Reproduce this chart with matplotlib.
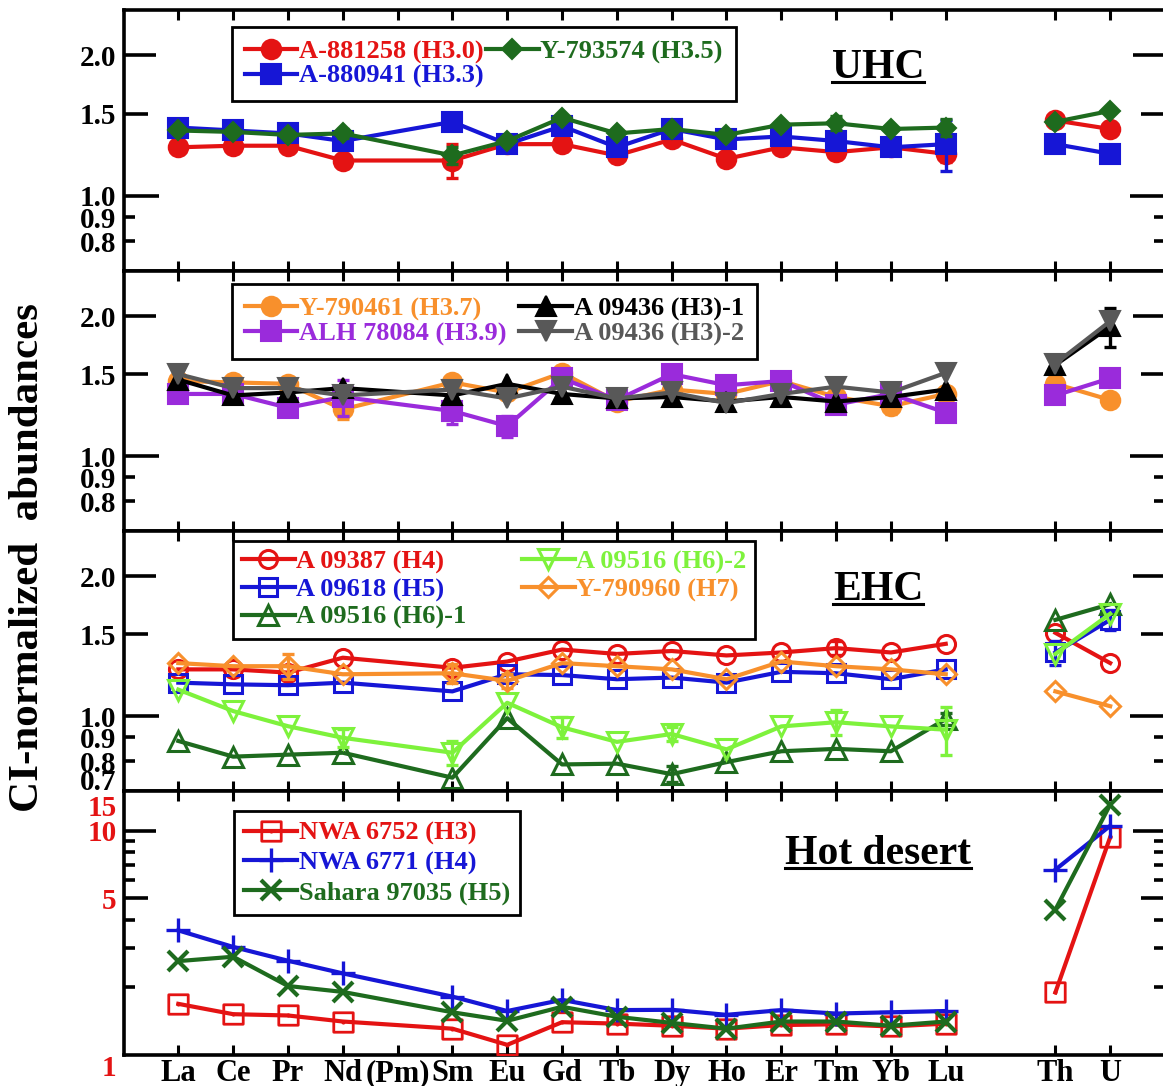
import numpy as np
import matplotlib
matplotlib.use('Agg')
import matplotlib.pyplot as plt
from matplotlib.path import Path
from matplotlib.ticker import FixedLocator, FixedFormatter, NullLocator
from matplotlib.lines import Line2D
from matplotlib.transforms import ScaledTranslation

plt.rcParams['font.family'] = ['Liberation Serif', 'DejaVu Serif']
plt.rcParams['font.weight'] = 'bold'

# ---------------- data ----------------
ree_labels = ['La', 'Ce', 'Pr', 'Nd', '(Pm)', 'Sm', 'Eu', 'Gd', 'Tb', 'Dy',
              'Ho', 'Er', 'Tm', 'Yb', 'Lu']
act_labels = ['Th', 'U']
ree_measured = ['La', 'Ce', 'Pr', 'Nd', 'Sm', 'Eu', 'Gd', 'Tb', 'Dy',
                'Ho', 'Er', 'Tm', 'Yb', 'Lu']

# Panel 1 : UHC
a881258_ree = [1.27, 1.28, 1.28, 1.19, 1.19, 1.29, 1.29, 1.22, 1.32, 1.20, 1.27, 1.24, 1.27, 1.23]
a881258_act = [1.45, 1.39]
a881258_err = [0, 0, 0, 0, 0.10, 0, 0.04, 0.04, 0, 0.03, 0, 0.03, 0, 0.05]
a880941_ree = [1.40, 1.38, 1.36, 1.31, 1.44, 1.29, 1.41, 1.27, 1.39, 1.32, 1.34, 1.31, 1.27, 1.29]
a880941_act = [1.29, 1.23]
a880941_err = [0, 0, 0.03, 0.05, 0.04, 0, 0, 0, 0, 0, 0, 0, 0, 0.16]
y793574_ree = [1.38, 1.37, 1.35, 1.36, 1.22, 1.31, 1.47, 1.36, 1.39, 1.35, 1.42, 1.43, 1.39, 1.40]
y793574_act = [1.44, 1.52]
y793574_err = [0, 0, 0, 0.03, 0.05, 0, 0, 0, 0, 0, 0, 0.05, 0, 0.06]

# Panel 2
y790461_ree = [1.45, 1.44, 1.43, 1.26, 1.44, 1.37, 1.51, 1.31, 1.39, 1.36, 1.45, 1.34, 1.28, 1.36]
y790461_act = [1.43, 1.32]
y790461_err = [0, 0, 0, 0.06, 0.05, 0, 0.05, 0.03, 0, 0, 0, 0, 0.05, 0]
alh78084_ree = [1.36, 1.36, 1.27, 1.34, 1.25, 1.16, 1.47, 1.32, 1.50, 1.42, 1.45, 1.29, 1.36, 1.24]
alh78084_act = [1.35, 1.47]
alh78084_err = [0, 0, 0, 0.12, 0.08, 0.06, 0, 0, 0, 0, 0, 0, 0, 0]
a09436_1_ree = [1.46, 1.35, 1.37, 1.40, 1.35, 1.43, 1.36, 1.33, 1.34, 1.31, 1.34, 1.31, 1.34, 1.39]
a09436_1_act = [1.57, 1.90]
a09436_1_act_err = [0, 0.18]
a09436_2_ree = [1.50, 1.40, 1.40, 1.35, 1.39, 1.33, 1.41, 1.33, 1.37, 1.30, 1.36, 1.41, 1.37, 1.51]
a09436_2_act = [1.58, 1.95]

# Panel 3 : EHC
a09387_ree = [1.26, 1.26, 1.24, 1.335, 1.27, 1.31, 1.39, 1.36, 1.38, 1.35, 1.37, 1.40, 1.37, 1.43]
a09387_act = [1.51, 1.30]
a09387_err = [0, 0, 0, 0, 0, 0, 0, 0, 0, 0, 0, 0.05, 0, 0]
a09618_ree = [1.18, 1.17, 1.165, 1.18, 1.13, 1.23, 1.225, 1.20, 1.21, 1.18, 1.245, 1.236, 1.20, 1.26]
a09618_act = [1.37, 1.61]
a09618_act_err = [0.08, 0.08]
a09516_1_ree = [0.884, 0.818, 0.826, 0.834, 0.737, 0.99, 0.787, 0.79, 0.75, 0.796, 0.84, 0.85, 0.84, 0.985]
a09516_1_act = [1.61, 1.74]
a09516_1_err = [0, 0, 0, 0, 0, 0, 0, 0, 0.03, 0, 0, 0, 0, 0.03]
a09516_2_ree = [1.14, 1.025, 0.951, 0.898, 0.834, 1.068, 0.946, 0.88, 0.915, 0.848, 0.95, 0.97, 0.95, 0.935]
a09516_2_act = [1.36, 1.66]
a09516_2_err = [0, 0, 0, 0.04, 0.05, 0, 0.05, 0, 0.03, 0, 0, 0.06, 0, 0.11]
y790960_ree = [1.30, 1.28, 1.28, 1.23, 1.236, 1.19, 1.30, 1.28, 1.26, 1.20, 1.31, 1.28, 1.26, 1.23]
y790960_act = [1.13, 1.05]
y790960_err = [0, 0, 0.08, 0, 0.06, 0.04, 0, 0, 0, 0, 0, 0, 0, 0]

# Panel 4 : Hot desert
nwa6752_ree = [1.69, 1.52, 1.50, 1.41, 1.31, 1.11, 1.40, 1.38, 1.35, 1.31, 1.36, 1.37, 1.34, 1.38]
nwa6752_act = [1.90, 9.34]
nwa6771_ree = [3.59, 3.03, 2.63, 2.31, 1.82, 1.57, 1.76, 1.585, 1.59, 1.51, 1.585, 1.53, 1.55, 1.57]
nwa6771_act = [6.69, 10.5]
sahara97035_ree = [2.62, 2.74, 2.03, 1.91, 1.55, 1.42, 1.64, 1.48, 1.39, 1.31, 1.41, 1.41, 1.35, 1.41]
sahara97035_act = [4.44, 13.05]

# ---------------- style ----------------
RED = '#E41313'
BLUE = '#1616D6'
DGREEN = '#1E6B1E'
ORANGE = '#F8902C'
PURPLE = '#9A2BDB'
BLACK = '#000000'
GRAY = '#585858'
LGREEN = '#7EF23C'

all_x = ree_labels + [''] + act_labels
ree_x = np.array([all_x.index(e) for e in ree_measured], dtype=float)
act_x = np.array([all_x.index(e) for e in act_labels], dtype=float)

sq = Path([[-.5, -.5], [.5, -.5], [.5, .5], [-.5, .5], [-.5, -.5]],
          [Path.MOVETO, Path.LINETO, Path.LINETO, Path.LINETO, Path.CLOSEPOLY])
dot = Path.circle((0, 0), 0.035)
SQDOT = Path.make_compound_path(sq, dot)

fig = plt.figure(figsize=(11.63, 10.86), dpi=100)
FW, FH = 1163.0, 1086.0
left_px, right_px = 123.5, 1165.0
tops = [10, 271, 531, 791]
bots = [271, 531, 791, 1055]
axes = []
for i, (t, b) in enumerate(zip(tops, bots)):
    ax = fig.add_axes([left_px / FW, 1 - b / FH, (right_px - left_px) / FW, (b - t) / FH],
                      sharex=axes[0] if axes else None)
    axes.append(ax)


def series(ax, ree, act, color, marker, ms, filled=True, label=None, z=3,
           err=None, act_err=None, mew=1.5):
    kw = dict(color=color, lw=3, marker=marker, ms=ms, mew=mew,
              mec=color, mfc=color if filled else 'none', zorder=z)
    ax.plot(ree_x, ree, label=label, **kw)
    ax.plot(act_x, act, **kw)
    for xs, ys, es in ((ree_x, ree, err), (act_x, act, act_err)):
        if es is None:
            continue
        es = np.asarray(es, float)
        m = es > 0
        if m.any():
            ax.errorbar(xs[m], np.asarray(ys)[m], yerr=es[m], fmt='none', ecolor=color,
                        elinewidth=2.4, capsize=4, capthick=2.4, zorder=z - 0.5)


ax1, ax2, ax3, ax4 = axes
# Panel 1
series(ax1, a881258_ree, a881258_act, RED, 'o', 14, label='A-881258 (H3.0)', z=3, err=a881258_err)
series(ax1, a880941_ree, a880941_act, BLUE, 's', 14.5, label='A-880941 (H3.3)', z=4, err=a880941_err)
series(ax1, y793574_ree, y793574_act, DGREEN, 'D', 10.5, label='Y-793574 (H3.5)', z=5, err=y793574_err)
# Panel 2
series(ax2, y790461_ree, y790461_act, ORANGE, 'o', 14, label='Y-790461 (H3.7)', z=3, err=y790461_err)
series(ax2, alh78084_ree, alh78084_act, PURPLE, 's', 14.5, label='ALH 78084 (H3.9)', z=4, err=alh78084_err)
series(ax2, a09436_1_ree, a09436_1_act, BLACK, '^', 14, label='A 09436 (H3)-1', z=5, act_err=a09436_1_act_err)
series(ax2, a09436_2_ree, a09436_2_act, GRAY, 'v', 14, label='A 09436 (H3)-2', z=6)
# Panel 3
series(ax3, a09387_ree, a09387_act, RED, 'o', 13, False, 'A 09387 (H4)', 3, err=a09387_err, mew=2.2)
series(ax3, a09618_ree, a09618_act, BLUE, 's', 13.5, False, 'A 09618 (H5)', 4, act_err=a09618_act_err, mew=2.2)
series(ax3, a09516_1_ree, a09516_1_act, DGREEN, '^', 14, False, 'A 09516 (H6)-1', 5, err=a09516_1_err, mew=2.2)
series(ax3, a09516_2_ree, a09516_2_act, LGREEN, 'v', 14, False, 'A 09516 (H6)-2', 6, err=a09516_2_err, mew=2.2)
series(ax3, y790960_ree, y790960_act, ORANGE, 'D', 10, False, 'Y-790960 (H7)', 7, err=y790960_err, mew=2.2)
# Panel 4
series(ax4, nwa6752_ree, nwa6752_act, RED, SQDOT, 14, False, 'NWA 6752 (H3)', 3, mew=2)
series(ax4, nwa6771_ree, nwa6771_act, BLUE, '+', 17, True, 'NWA 6771 (H4)', 4, mew=2.4)
series(ax4, sahara97035_ree, sahara97035_act, DGREEN, 'x', 15, True, 'Sahara 97035 (H5)', 5, mew=3)

# ---------------- axes ----------------
xt = sorted(list(ree_x) + [all_x.index('(Pm)')] + list(act_x))
for ax in axes:
    ax.set_yscale('log')
    ax.set_xlim(-1, 18)
    for s in ax.spines.values():
        s.set_linewidth(2.6)
    ax.set_xticks(xt)
    ax.tick_params(axis='x', which='major', direction='in', top=True, bottom=True,
                   length=7.5, width=2.2, labelbottom=False)
    ax.tick_params(axis='y', which='both', direction='in', left=True, right=True,
                   width=2.6, labelsize=21, pad=5)

ax4.set_xticklabels([all_x[int(v)] for v in xt])
ax4.tick_params(axis='x', labelbottom=True, labelsize=22, pad=3)

y_major_std = {0.8: 8, 0.9: 8, 1.0: 25, 1.5: 17, 2.0: 23}
for ax, extra in ((ax1, False), (ax2, False), (ax3, True)):
    ax.set_ylim(0.69, 2.5)
    lens = dict(y_major_std)
    if extra:
        lens[0.7] = 0
    locs = sorted(lens)
    ax.yaxis.set_major_locator(FixedLocator(locs))
    ax.yaxis.set_major_formatter(FixedFormatter(['%.1f' % v for v in locs]))
    ax.yaxis.set_minor_locator(NullLocator())
    ax._tick_lens = [lens[v] for v in locs]
    ax._label_shift = [0] * len(locs)
    if extra:
        ax._label_shift[0] = 9   # "0.7" sits a little above the frame line

ax4.set_ylim(1, 15)
p4_locs = [1, 5, 10, 15]
ax4.yaxis.set_major_locator(FixedLocator(p4_locs))
ax4.yaxis.set_major_formatter(FixedFormatter(['1', '5', '10', '15']))
ax4.yaxis.set_minor_locator(FixedLocator([2, 3, 4, 6, 7, 8, 9]))
ax4.yaxis.set_minor_formatter(FixedFormatter([''] * 7))
ax4.tick_params(axis='y', which='minor', length=8)
ax4.tick_params(axis='y', which='major', labelcolor=RED)
ax4._tick_lens = [0, 17, 23, 0]
ax4._label_shift = [-10, 0, 0, -14]

for ax in axes:
    ticks = ax.yaxis.get_major_ticks(len(ax._tick_lens))
    for tk, L, sh in zip(ticks, ax._tick_lens, ax._label_shift):
        tk.tick1line.set_markersize(L)
        tk.tick2line.set_markersize(L)
        if sh:
            off = ScaledTranslation(0, sh * 0.72 / 72, fig.dpi_scale_trans)
            tk.label1.set_transform(tk.label1.get_transform() + off)

# ---------------- legends ----------------
def make_legend(ax, ncol, anchor, colsp, lsp, bpad):
    h, l = ax.get_legend_handles_labels()
    leg = ax.legend(h, l, loc='upper left', bbox_to_anchor=anchor, ncol=ncol,
                    fontsize=19, frameon=True, fancybox=False, edgecolor='black',
                    framealpha=1, borderpad=bpad, handlelength=2.0, handletextpad=0.05,
                    columnspacing=colsp, labelspacing=lsp, borderaxespad=0,
                    labelcolor='linecolor')
    leg.get_frame().set_linewidth(2.0)
    return leg

make_legend(ax1, 2, (0.1037, 0.936), 0.1, 0.02, 0.5)
make_legend(ax2, 2, (0.1037, 0.95), 0.5, 0.02, 0.5)
make_legend(ax3, 2, (0.1049, 0.963), 2.1, 0.15, 0.35)
make_legend(ax4, 1, (0.106, 0.925), 1.0, 0.22, 0.4)

# ---------------- titles ----------------
titles = []
for ax, txt, yb in ((ax1, 'UHC', 0.7395), (ax3, 'EHC', 0.7346), (ax4, 'Hot desert', 0.7235)):
    t = ax.text(0.7245, yb, txt, transform=ax.transAxes, ha='center', va='baseline',
                fontsize=30, fontweight='bold', color='black')
    titles.append((ax, t, yb))

fig.text(28 / FW, 0.487, 'CI-normalized  abundances', rotation=90, ha='center', va='center',
         fontsize=31, fontweight='bold')

fig.canvas.draw()
r = fig.canvas.get_renderer()
inv = fig.transFigure.inverted()
for ax, t, yb in titles:
    bb = t.get_window_extent(r)
    base = ax.transAxes.transform((0.5, yb))[1]
    p0 = inv.transform((bb.x0, base - 4))
    p1 = inv.transform((bb.x1, base - 4))
    fig.add_artist(Line2D([p0[0], p1[0]], [p0[1], p1[1]], transform=fig.transFigure,
                          color='black', lw=2.2))

fig.savefig('out.png', dpi=100)
